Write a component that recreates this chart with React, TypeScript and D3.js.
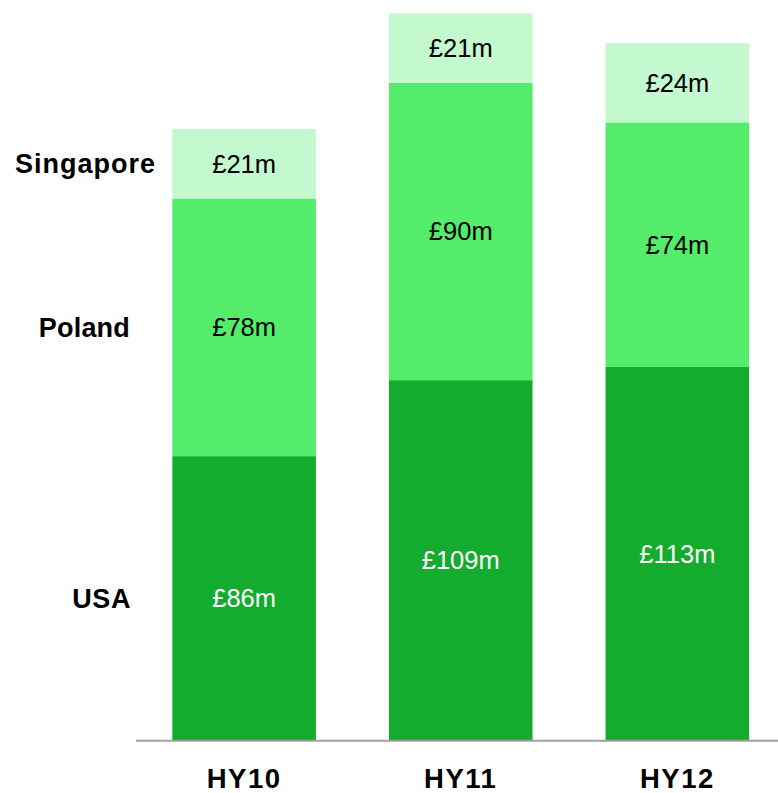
import React, { useEffect, useRef } from "react";
import * as d3 from "d3";

const periods = ["HY10", "HY11", "HY12"];
const seriesNames = ["USA", "Poland", "Singapore"];
const usa = [86, 109, 113];
const poland = [78, 90, 74];
const singapore = [21, 21, 24];
const colors = ["#14AC2E", "#53EC6B", "#C4F8CE"];
const labelColors = ["#FFFFFF", "#000000", "#000000"];
const seriesLabelX = [131, 130, 156];
const seriesLabelSpacing = [0.6, 0.2, 1];

export default function App() {
  const ref = useRef<SVGSVGElement | null>(null);

  useEffect(() => {
    const svg = d3.select(ref.current);
    svg.selectAll("*").remove();
    const W = 778;

    const rows = periods.map((p, i) => ({ period: p, USA: usa[i], Poland: poland[i], Singapore: singapore[i] }));
    const stack = d3.stack<any>().keys(seriesNames)(rows);

    const x = d3.scaleBand<string>().domain(periods).range([155, 766.5]).paddingInner(0.337).paddingOuter(0.08);
    const y = d3.scaleLinear().domain([0, 220]).range([740.3, 13.4]);

    const font = "'Liberation Sans', Arial, sans-serif";

    stack.forEach((layer, si) => {
      const g = svg.append("g");
      g.selectAll("rect")
        .data(layer)
        .join("rect")
        .attr("x", (d: any) => x(d.data.period)!)
        .attr("width", x.bandwidth())
        .attr("y", (d: any) => y(d[1]))
        .attr("height", (d: any) => y(d[0]) - y(d[1]))
        .attr("fill", colors[si]);
      g.selectAll("text")
        .data(layer)
        .join("text")
        .attr("x", (d: any) => x(d.data.period)! + x.bandwidth() / 2)
        .attr("y", (d: any) => (y(d[0]) + y(d[1])) / 2)
        .attr("dy", "0.35em")
        .attr("text-anchor", "middle")
        .attr("font-family", font)
        .attr("font-size", 25.5)
        .attr("fill", labelColors[si])
        .text((d: any) => `£${d[1] - d[0]}m`);

      const first = layer[0];
      svg.append("text")
        .attr("x", seriesLabelX[si])
        .attr("y", (y(first[0]) + y(first[1])) / 2)
        .attr("dy", "0.35em")
        .attr("text-anchor", "end")
        .attr("font-family", font)
        .attr("font-weight", "bold")
        .attr("font-size", 27)
        .attr("letter-spacing", seriesLabelSpacing[si])
        .attr("fill", "#000")
        .text(seriesNames[si]);
    });

    svg.append("line")
      .attr("x1", 136).attr("x2", W)
      .attr("y1", y(0) + 0.5).attr("y2", y(0) + 0.5)
      .attr("stroke", "#A0A0A0").attr("stroke-width", 2);

    svg.append("g")
      .selectAll("text")
      .data(periods)
      .join("text")
      .attr("x", (d) => x(d)! + x.bandwidth() / 2)
      .attr("y", 788)
      .attr("text-anchor", "middle")
      .attr("font-family", font)
      .attr("font-weight", "bold")
      .attr("font-size", 27.5)
      .attr("letter-spacing", 1.5)
      .attr("fill", "#000")
      .text((d) => d);
  }, []);

  return (
    <svg
      ref={ref}
      width={778}
      height={793}
      style={{ position: "absolute", left: 0, top: 0, background: "#fff" }}
    />
  );
}
